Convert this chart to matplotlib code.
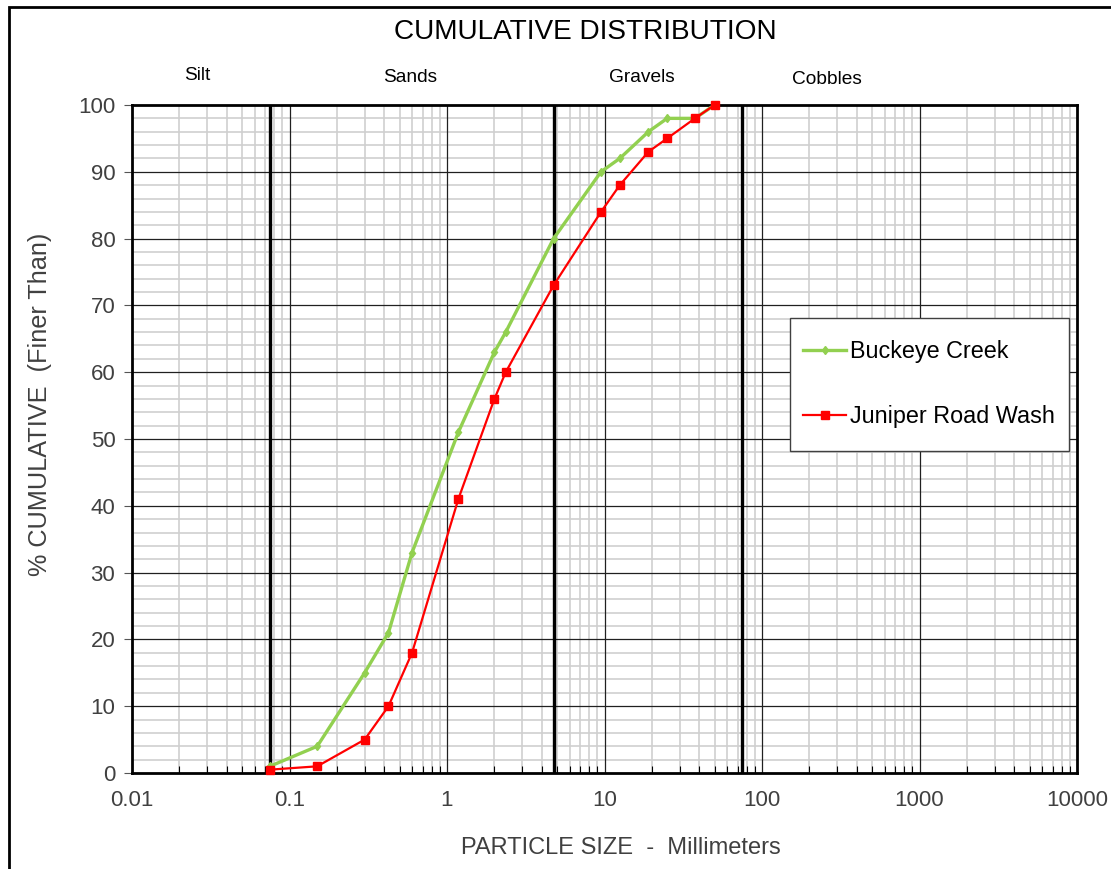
import matplotlib
matplotlib.use('Agg')
import matplotlib.pyplot as plt
from matplotlib.patches import Rectangle
from matplotlib.ticker import LogLocator, FixedLocator, NullFormatter, FuncFormatter

plt.rcParams['font.family'] = ['Liberation Sans', 'DejaVu Sans']

# sieve sizes (mm) and % finer
buckeye_size = [0.075, 0.15, 0.3, 0.425, 0.6, 1.18, 2.0, 2.36, 4.75, 9.5, 12.5, 19, 25, 37.5, 50]
buckeye_pct = [1, 4, 15, 21, 33, 51, 63, 66, 80, 90, 92, 96, 98, 98, 100]

juniper_size = [0.075, 0.15, 0.3, 0.425, 0.6, 1.18, 2.0, 2.36, 4.75, 9.5, 12.5, 19, 25, 37.5, 50]
juniper_pct = [0.5, 1, 5, 10, 18, 41, 56, 60, 73, 84, 88, 93, 95, 98, 100]

# soil class boundaries (mm) and class names
boundaries = [0.075, 4.75, 75]
classes = ['Silt', 'Sands', 'Gravels', 'Cobbles']
decades = [0.01, 0.1, 1, 10, 100, 1000, 10000]

fig = plt.figure(figsize=(11.11, 8.69), dpi=100)
W, H = 1111, 869
AX_L, AX_R, AX_T, AX_B = 132, 1077, 105, 773
ax = fig.add_axes([AX_L / W, 1 - AX_B / H, (AX_R - AX_L) / W, (AX_B - AX_T) / H])

ax.set_xscale('log')
ax.set_xlim(0.01, 10000)
ax.set_ylim(0, 100)

# grid: light minor lines, dark major lines drawn on top
ax.xaxis.set_major_locator(FixedLocator(decades))
ax.xaxis.set_minor_locator(LogLocator(base=10, subs=range(2, 10), numticks=20))
ax.xaxis.set_minor_formatter(NullFormatter())
ax.xaxis.set_major_formatter(FuncFormatter(lambda v, p: ('%g' % v)))
ax.yaxis.set_major_locator(FixedLocator(range(0, 101, 10)))
ax.yaxis.set_minor_locator(FixedLocator(range(0, 101, 2)))
ax.grid(which='minor', color='#cfcfcf', linewidth=1.2)
ax.set_axisbelow(True)
for d in decades[1:-1]:
    ax.axvline(d, color='#202020', linewidth=0.9, zorder=1.5)
for v in range(10, 100, 10):
    ax.axhline(v, color='#202020', linewidth=0.9, zorder=1.5)

ax.tick_params(axis='x', which='major', length=0, labelsize=16, pad=12, labelcolor='#404040')
ax.tick_params(axis='x', which='minor', direction='in', length=5, width=0.8)
ax.tick_params(axis='y', which='major', direction='out', length=6, width=0.8,
               labelsize=16, pad=6, colors='#555555', labelcolor='#404040')
ax.tick_params(axis='y', which='minor', length=0)

for s in ax.spines.values():
    s.set_linewidth(2)
    s.set_color('black')
    s.set_zorder(6)

for b in boundaries:
    ax.axvline(b, color='black', linewidth=2.4, zorder=3)

ax.plot(buckeye_size, buckeye_pct, color='#92D050', linewidth=2.4, marker='d',
        markersize=4.5, label='Buckeye Creek', zorder=7, clip_on=False)
ax.plot(juniper_size, juniper_pct, color='#FF0000', linewidth=1.6, marker='s',
        markersize=5.5, label='Juniper Road Wash', zorder=8, clip_on=False)

# legend box drawn separately so padding can match
def px_to_ax(px, py):
    return (px - AX_L) / (AX_R - AX_L), (AX_B - py) / (AX_B - AX_T)

bx0, by0 = px_to_ax(790, 451)
bx1, by1 = px_to_ax(1069, 318)
ax.add_patch(Rectangle((bx0, by0), bx1 - bx0, by1 - by0, transform=ax.transAxes,
                       facecolor='white', edgecolor='#404040', linewidth=1.0, zorder=9))

leg = ax.legend(loc='upper left', bbox_to_anchor=px_to_ax(803, 340),
                fontsize=16.8, frameon=False, handlelength=1.85, handletextpad=0.17,
                labelspacing=1.82, borderpad=0, borderaxespad=0)
leg.set_zorder(10)

fig.text(585 / W, 1 - 32 / H, 'CUMULATIVE DISTRIBUTION', ha='center', va='center',
         fontsize=20.2)
class_pos = [(197, 75), (410, 78), (642, 78), (827, 80)]
for name, (px, py) in zip(classes, class_pos):
    fig.text(px / W, 1 - py / H, name, ha='center', va='center', fontsize=13.8)

fig.text(621 / W, 1 - 848 / H, 'PARTICLE SIZE  -  Millimeters', ha='center',
         va='center', fontsize=17, color='#404040')
fig.text(40 / W, 1 - 404 / H, '% CUMULATIVE  (Finer Than)', ha='center',
         va='center', rotation=90, fontsize=18.2, color='#404040')

# outer chart border
fig.patches.append(Rectangle((8.5 / W, -0.1), 1.2, 1.1 - 7 / H, transform=fig.transFigure,
                             fill=False, edgecolor='black', linewidth=2))

fig.savefig('out.png', dpi=100)
